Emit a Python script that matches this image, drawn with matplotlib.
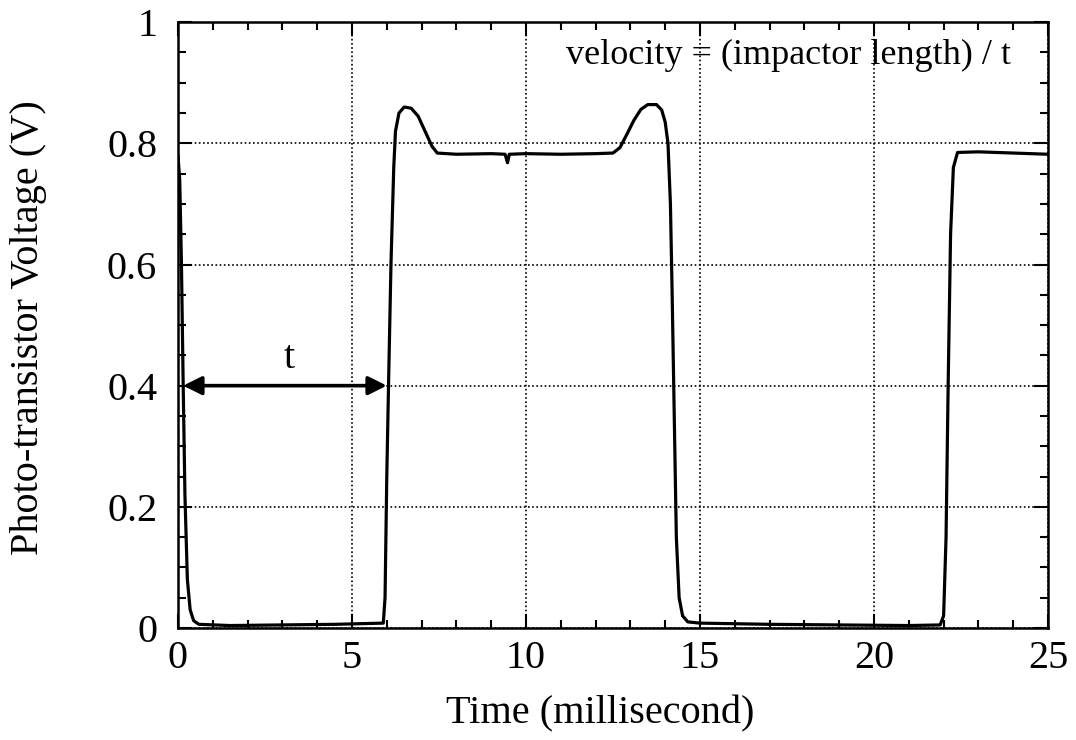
import matplotlib
matplotlib.use('Agg')
import matplotlib.pyplot as plt
from matplotlib.ticker import MultipleLocator

plt.rcParams['font.family'] = ['Liberation Serif', 'DejaVu Serif']

# photo-transistor trace
time_ms = [0.0, 0.05, 0.10, 0.15, 0.20, 0.27, 0.35, 0.45, 0.6, 1.5, 3.0, 4.5, 5.9,
           5.95, 6.0, 6.05, 6.12, 6.2, 6.25, 6.35, 6.5, 6.7, 6.9, 7.1, 7.3, 7.45,
           8.0, 9.0, 9.4, 9.47, 9.52, 10.0, 11.0, 12.0, 12.5, 12.7, 12.9, 13.1, 13.3,
           13.5, 13.75, 13.9, 14.0, 14.08, 14.15, 14.2, 14.26, 14.32, 14.4, 14.5, 14.65,
           15.0, 17.0, 19.0, 21.0, 21.9, 22.0, 22.07, 22.13, 22.2, 22.28, 22.4,
           23.0, 24.0, 25.0]
voltage = [0.78, 0.74, 0.60, 0.40, 0.22, 0.08, 0.03, 0.012, 0.006, 0.004, 0.005, 0.006, 0.008,
           0.05, 0.25, 0.40, 0.60, 0.76, 0.82, 0.85, 0.860, 0.858, 0.845, 0.82, 0.795, 0.784,
           0.782, 0.783, 0.782, 0.768, 0.782, 0.783, 0.782, 0.783, 0.784, 0.793, 0.815, 0.838, 0.856,
           0.864, 0.864, 0.855, 0.835, 0.80, 0.70, 0.55, 0.35, 0.15, 0.05, 0.02, 0.01,
           0.008, 0.006, 0.005, 0.004, 0.005, 0.02, 0.15, 0.40, 0.65, 0.76, 0.785,
           0.786, 0.784, 0.782]

t_start, t_end, t_level = 0.15, 6.0, 0.4

fig = plt.figure(figsize=(10.76, 7.4), dpi=100)
ax = fig.add_axes([0.1654, 0.1514, 0.8086, 0.8186])

ax.plot(time_ms, voltage, color='black', lw=2.3, solid_joinstyle='round')

ax.annotate('', xy=(t_start, t_level), xytext=(t_end, t_level),
            arrowprops=dict(arrowstyle='<|-|>', color='black', lw=2.6, mutation_scale=28,
                            shrinkA=0, shrinkB=0))
ax.text(3.2, 0.415, 't', fontsize=29, ha='center', va='bottom')
ax.text(23.95, 0.945, 'velocity = (impactor length) / t', fontsize=26, ha='right', va='center')

ax.set_xlim(0, 25)
ax.set_ylim(0, 1)
ax.xaxis.set_major_locator(MultipleLocator(5))
ax.xaxis.set_minor_locator(MultipleLocator(1))
ax.yaxis.set_major_locator(MultipleLocator(0.2))
ax.yaxis.set_minor_locator(MultipleLocator(0.05))
ax.set_yticks([0, 0.2, 0.4, 0.6, 0.8, 1.0])
ax.set_yticklabels(['0', '0.2', '0.4', '0.6', '0.8', '1'])

ax.tick_params(which='both', direction='in', top=True, right=True, width=1.5, labelsize=29)
ax.tick_params(which='major', length=10)
ax.tick_params(axis='x', which='major', pad=9)
ax.tick_params(axis='y', which='major', pad=15)
ax.tick_params(which='minor', length=6)
for s in ax.spines.values():
    s.set_linewidth(1.8)

ax.grid(True, which='major', color='black', linestyle=(0, (1, 1.5)), lw=1.2)

ax.set_xlabel('Time (millisecond)', fontsize=29)
ax.set_ylabel('Photo-transistor Voltage (V)', fontsize=29)
ax.xaxis.set_label_coords(0.485, -0.112)
ax.yaxis.set_label_coords(-0.150, 0.495)

fig.savefig('out.png', dpi=100)
